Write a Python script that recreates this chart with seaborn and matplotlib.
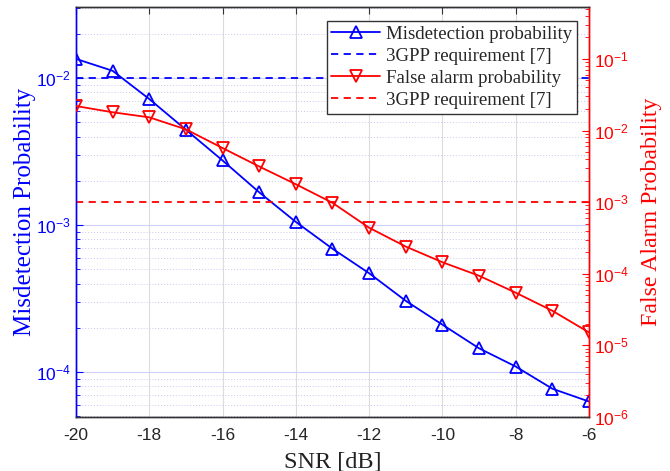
import numpy as np
import pandas as pd
import seaborn as sns
import matplotlib.pyplot as plt
from matplotlib.lines import Line2D
from matplotlib.ticker import LogLocator, NullFormatter

snr_db = [-20, -19, -18, -17, -16, -15, -14, -13, -12, -11, -10, -9, -8, -7, -6]
p_misdetection = [1.35e-2, 1.12e-2, 7.2e-3, 4.45e-3, 2.75e-3, 1.67e-3, 1.05e-3,
                  6.9e-4, 4.7e-4, 3.05e-4, 2.1e-4, 1.45e-4, 1.09e-4, 7.7e-5, 6.3e-5]
p_false_alarm = [2.2e-2, 1.8e-2, 1.53e-2, 1.04e-2, 5.7e-3, 3.15e-3, 1.78e-3,
                 9.8e-4, 4.4e-4, 2.4e-4, 1.45e-4, 9.4e-5, 5.45e-5, 3.05e-5, 1.52e-5]
req_misdetection = 1e-2
req_false_alarm = 1e-3

sns.set_style("white")
plt.rcParams['font.family'] = ['Liberation Sans', 'DejaVu Sans']
plt.rcParams['mathtext.fontset'] = 'custom'
plt.rcParams['mathtext.rm'] = 'Liberation Sans'

blue = '#0000ff'
red = '#ff0000'
serif = ['Liberation Serif', 'DejaVu Serif']

df = pd.DataFrame({'snr': snr_db, 'md': p_misdetection, 'fa': p_false_alarm})

fig = plt.figure(figsize=(6.7, 4.71), dpi=100)
ax1 = fig.add_axes([0.1134, 0.1146, 0.7656, 0.8704])
ax2 = ax1.twinx()

sns.lineplot(data=df, x='snr', y='md', ax=ax1, color=blue, lw=1.3,
             marker='^', markersize=8, markerfacecolor='none',
             markeredgecolor=blue, markeredgewidth=1.3, zorder=5)
ax1.axhline(req_misdetection, color=blue, ls=(0, (4, 3)), lw=1.3)

sns.lineplot(data=df, x='snr', y='fa', ax=ax2, color=red, lw=1.3,
             marker='v', markersize=8, markerfacecolor='none',
             markeredgecolor=red, markeredgewidth=1.3, zorder=5)
ax2.axhline(req_false_alarm, color=red, ls=(0, (4, 3)), lw=1.3)

ax1.set_yscale('log')
ax2.set_yscale('log')
ax1.set_xlim(-20, -6)
ax1.set_ylim(4.94e-5, 3.04e-2)
ax2.set_ylim(1e-6, 0.53)
ax1.set_xticks(range(-20, -5, 2))
ax1.set_xticklabels([str(v) for v in range(-20, -5, 2)])

for ax in (ax1, ax2):
    ax.yaxis.set_major_locator(LogLocator(base=10, numticks=10))
    ax.yaxis.set_minor_locator(LogLocator(base=10, subs=np.arange(2, 10), numticks=20))
    ax.yaxis.set_minor_formatter(NullFormatter())

# grid
ax1.set_axisbelow(True)
ax1.grid(True, axis='x', color='#dcdcdc', lw=0.8)
ax1.grid(True, axis='y', which='major', color='#d0d0ff', lw=0.8)
ax1.grid(True, axis='y', which='minor', color='#c8c8f0', lw=0.7, ls=(0, (1, 2)))

ax1.tick_params(axis='x', direction='in', top=True, length=5, labelsize=12.5,
                color='#333333', pad=8)
ax1.tick_params(axis='y', which='major', direction='in', length=5, colors=blue, labelsize=12.5)
ax1.tick_params(axis='y', which='minor', direction='in', length=3, colors=blue)
ax2.tick_params(axis='y', which='major', direction='in', length=5, colors=red, labelsize=12.5)
ax2.tick_params(axis='y', which='minor', direction='in', length=3, colors=red)

for ax in (ax1, ax2):
    ax.spines['top'].set_color('#333333')
    ax.spines['bottom'].set_color('#333333')
    ax.spines['left'].set_color(blue)
    ax.spines['right'].set_color(red)
    for s in ax.spines.values():
        s.set_linewidth(1.0)
        s.set_visible(True)

ax1.set_xlabel('SNR [dB]', fontsize=17.5, family=serif, color='#222222', labelpad=6)
ax1.set_ylabel('Misdetection Probability', fontsize=18, family=serif, color=blue, labelpad=0)
ax2.set_ylabel('False Alarm Probability', fontsize=17.2, family=serif, color=red, labelpad=9)

handles = [
    Line2D([], [], color=blue, lw=1.3, marker='^', markersize=8,
           markerfacecolor='none', markeredgewidth=1.3),
    Line2D([], [], color=blue, lw=1.3, ls=(0, (4, 3))),
    Line2D([], [], color=red, lw=1.3, marker='v', markersize=8,
           markerfacecolor='none', markeredgewidth=1.3),
    Line2D([], [], color=red, lw=1.3, ls=(0, (4, 3))),
]
labels = ['Misdetection probability', '3GPP requirement [7]',
          'False alarm probability', '3GPP requirement [7]']
leg = ax2.legend(handles, labels, loc='upper right', bbox_to_anchor=(0.977, 0.967),
                 prop={'family': serif, 'size': 13.6}, frameon=True, fancybox=False,
                 edgecolor='#333333', framealpha=1, borderpad=0.25, labelspacing=0.26,
                 handlelength=2.6, handletextpad=0.3, borderaxespad=0.0)
leg.get_frame().set_linewidth(1.0)
ax2.set_zorder(ax1.get_zorder() + 1)

fig.savefig('out.png', dpi=100)
